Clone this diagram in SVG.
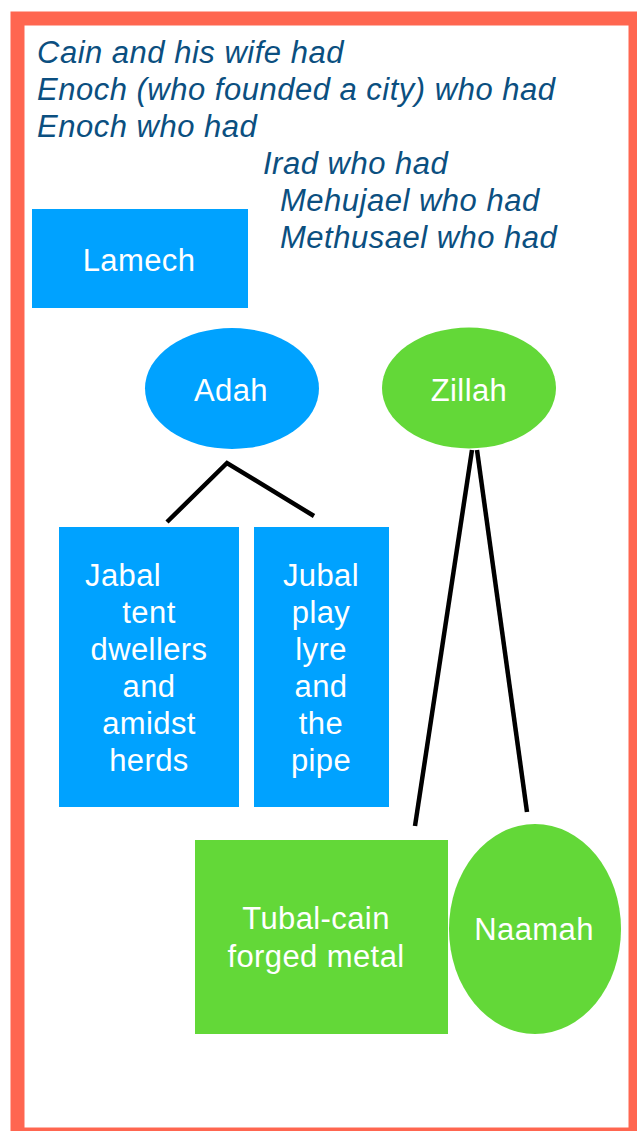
<svg xmlns="http://www.w3.org/2000/svg" width="637" height="1131" viewBox="0 0 637 1131">
<style>
.intro{font-family:"Liberation Sans",Arial,sans-serif;font-style:italic;font-size:31px;fill:#0b4f80;letter-spacing:0.5px}
.lbl{font-family:"Liberation Sans",Arial,sans-serif;font-size:31px;fill:#ffffff;text-anchor:middle;letter-spacing:0.4px}
.blue{fill:#00a2ff}
.green{fill:#63d838}
.conn{stroke:#000;stroke-width:4.5;fill:none}
</style>
<rect width="637" height="1131" fill="#ffffff"/>
<rect x="17.5" y="18.5" width="618" height="1116" fill="none" stroke="#ff6650" stroke-width="14"/>
<g id="intro">
<text class="intro" x="37" y="63">Cain and his wife had</text>
<text class="intro" x="37" y="100">Enoch (who founded a city) who had</text>
<text class="intro" x="37" y="137">Enoch who had</text>
<text class="intro" x="263" y="174">Irad who had</text>
<text class="intro" x="280" y="211">Mehujael who had</text>
<text class="intro" x="280" y="248">Methusael who had</text>
</g>
<g id="connectors">
<polyline class="conn" points="167,522 227,463 314,516"/>
<line class="conn" x1="472" y1="450" x2="415" y2="826"/>
<line class="conn" x1="477" y1="450" x2="527" y2="812"/>
</g>
<g id="lamech">
<rect class="blue" x="32" y="209" width="216" height="99"/>
<text class="lbl" x="139" y="271">Lamech</text>
</g>
<g id="adah">
<ellipse class="blue" cx="232" cy="388.5" rx="87" ry="60.5"/>
<text class="lbl" x="231" y="401">Adah</text>
</g>
<g id="zillah">
<ellipse class="green" cx="469" cy="388" rx="87" ry="60.5"/>
<text class="lbl" x="469" y="401">Zillah</text>
</g>
<g id="jabal">
<rect class="blue" x="59" y="527" width="180" height="280"/>
<text class="lbl" x="85" y="586" style="text-anchor:start">Jabal</text>
<text class="lbl" x="149" y="623">tent</text>
<text class="lbl" x="149" y="660">dwellers</text>
<text class="lbl" x="149" y="697">and</text>
<text class="lbl" x="149" y="734">amidst</text>
<text class="lbl" x="149" y="771">herds</text>
</g>
<g id="jubal">
<rect class="blue" x="254" y="527" width="135" height="280"/>
<text class="lbl" x="321" y="586">Jubal</text>
<text class="lbl" x="321" y="623">play</text>
<text class="lbl" x="321" y="660">lyre</text>
<text class="lbl" x="321" y="697">and</text>
<text class="lbl" x="321" y="734">the</text>
<text class="lbl" x="321" y="771">pipe</text>
</g>
<g id="tubalcain">
<rect class="green" x="195" y="840" width="253" height="194"/>
<text class="lbl" x="316" y="929">Tubal-cain</text>
<text class="lbl" x="316" y="967">forged metal</text>
</g>
<g id="naamah">
<ellipse class="green" cx="535" cy="929" rx="86" ry="105"/>
<text class="lbl" x="534" y="940">Naamah</text>
</g>
</svg>
